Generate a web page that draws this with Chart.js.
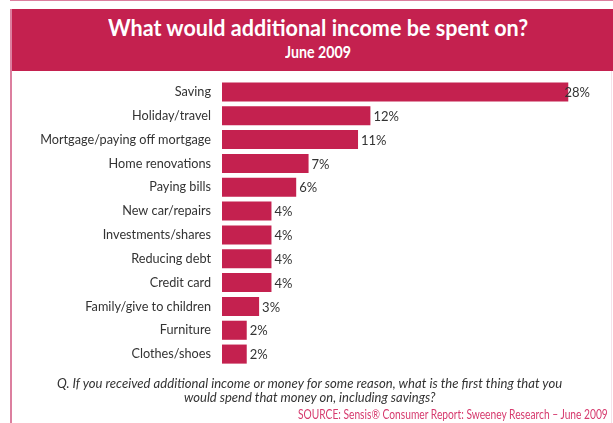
<!DOCTYPE html>
<html>
<head>
<meta charset="utf-8">
<script src="https://cdn.jsdelivr.net/npm/chart.js@4"></script>
<style>
  html, body { margin: 0; padding: 0; background: #fff; }
  body { width: 613px; height: 423px; position: relative; overflow: hidden; font-family: Lato, "Open Sans", sans-serif; }
  .rule-top { position: absolute; left: 10px; top: 0; width: 603px; height: 1px; background: #dc7f9f; }
  .rule-left { position: absolute; left: 10px; top: 9px; width: 2px; height: 414px; background: #dc7f9f; }
  .rule-right { position: absolute; left: 611px; top: 71px; width: 1px; height: 352px; background: #f6e1e9; }
  .header { position: absolute; left: 11px; top: 9px; width: 602px; height: 62px; background: #c4214f; }
  /* narrow text: laid out at natural width, then squeezed horizontally */
  .squeeze { position: absolute; white-space: nowrap; }
  .title, .subtitle { color: #fff; font-weight: bold; }
  .title { top: 13px; line-height: 28px; font-size: 23px; }
  .subtitle { top: 42px; line-height: 20px; font-size: 17px; }
  .question { color: #333; font-style: italic; font-size: 13px; line-height: 14px; }
  .q1 { top: 376px; }
  .q2 { top: 390px; }
  .source { top: 407px; color: #d63a6e; font-size: 12.5px; line-height: 15px; }
  #wrap { position: absolute; left: 0; top: 66px; width: 613px; height: 314px; }
</style>
</head>
<body>
<div class="rule-top"></div>
<div class="header"></div>
<div class="rule-left"></div>
<div class="rule-right"></div>
<div id="wrap"><canvas id="spendChart"></canvas></div>
<div class="squeeze title" data-centre="318" data-width="420">What would additional income be spent on?</div>
<div class="squeeze subtitle" data-centre="318" data-width="66">June 2009</div>
<div class="squeeze question q1" data-centre="309" data-width="505">Q. If you received additional income or money for some reason, what is the first thing that you</div>
<div class="squeeze question q2" data-centre="310" data-width="252">would spend that money on, including savings?</div>
<div class="squeeze source" data-right="608" data-width="310">SOURCE: Sensis® Consumer Report: Sweeney Research – June 2009</div>

<script>
const categories = [
  'Saving', 'Holiday/travel', 'Mortgage/paying off mortgage', 'Home renovations',
  'Paying bills', 'New car/repairs', 'Investments/shares', 'Reducing debt',
  'Credit card', 'Family/give to children', 'Furniture', 'Clothes/shoes'
];
const percents = [28, 12, 11, 7, 6, 4, 4, 4, 4, 3, 2, 2];

const barColour = '#c4214f';
const labelFont = '13px Lato, "Open Sans", sans-serif';

// condensed look for the header and footer lines
document.querySelectorAll('.squeeze').forEach(el => {
  const natural = el.scrollWidth;
  const target = parseFloat(el.dataset.width);
  const k = target / natural;
  el.style.transformOrigin = '0 0';
  el.style.transform = `scaleX(${k})`;
  if (el.dataset.right) {
    el.style.left = (parseFloat(el.dataset.right) - target) + 'px';
  } else {
    el.style.left = (parseFloat(el.dataset.centre) - target / 2) + 'px';
  }
});

// writes "n%" just past the end of each bar, pulled back if it would run off the right
const valueLabels = {
  id: 'valueLabels',
  afterDatasetsDraw(chart) {
    const ctx = chart.ctx;
    const meta = chart.getDatasetMeta(0);
    ctx.save();
    ctx.font = labelFont;
    ctx.fillStyle = '#333';
    ctx.textAlign = 'left';
    ctx.textBaseline = 'middle';
    meta.data.forEach((bar, i) => {
      const text = percents[i] + '%';
      const w = ctx.measureText(text).width;
      const x = Math.min(bar.x + 3, chart.chartArea.right - 3 - w);
      ctx.fillText(text, x, bar.y + 1);
    });
    ctx.restore();
  }
};

const ctx = document.getElementById('spendChart').getContext('2d');
const spendChart = new Chart(ctx, {
  type: 'bar',
  data: {
    labels: categories,
    datasets: [{
      data: percents,
      backgroundColor: barColour,
      borderWidth: 0,
      categoryPercentage: 1,
      barPercentage: 0.8
    }]
  },
  options: {
    indexAxis: 'y',
    responsive: true,
    maintainAspectRatio: false,
    animation: false,
    layout: { padding: { top: 14, bottom: 14, left: 0, right: 20 } },
    plugins: {
      legend: { display: false },
      tooltip: { enabled: false }
    },
    scales: {
      x: {
        display: false,
        min: 0,
        max: 30
      },
      y: {
        afterFit(scale) { scale.width = 222; },
        // invisible tick marks give the 11px gap between labels and bars
        grid: { display: false, drawTicks: true, tickLength: 11 },
        border: { display: false },
        ticks: {
          padding: 0,
          color: '#333',
          font: { family: 'Lato, "Open Sans", sans-serif', size: 12.7 }
        }
      }
    }
  },
  plugins: [valueLabels]
});
</script>
</body>
</html>
